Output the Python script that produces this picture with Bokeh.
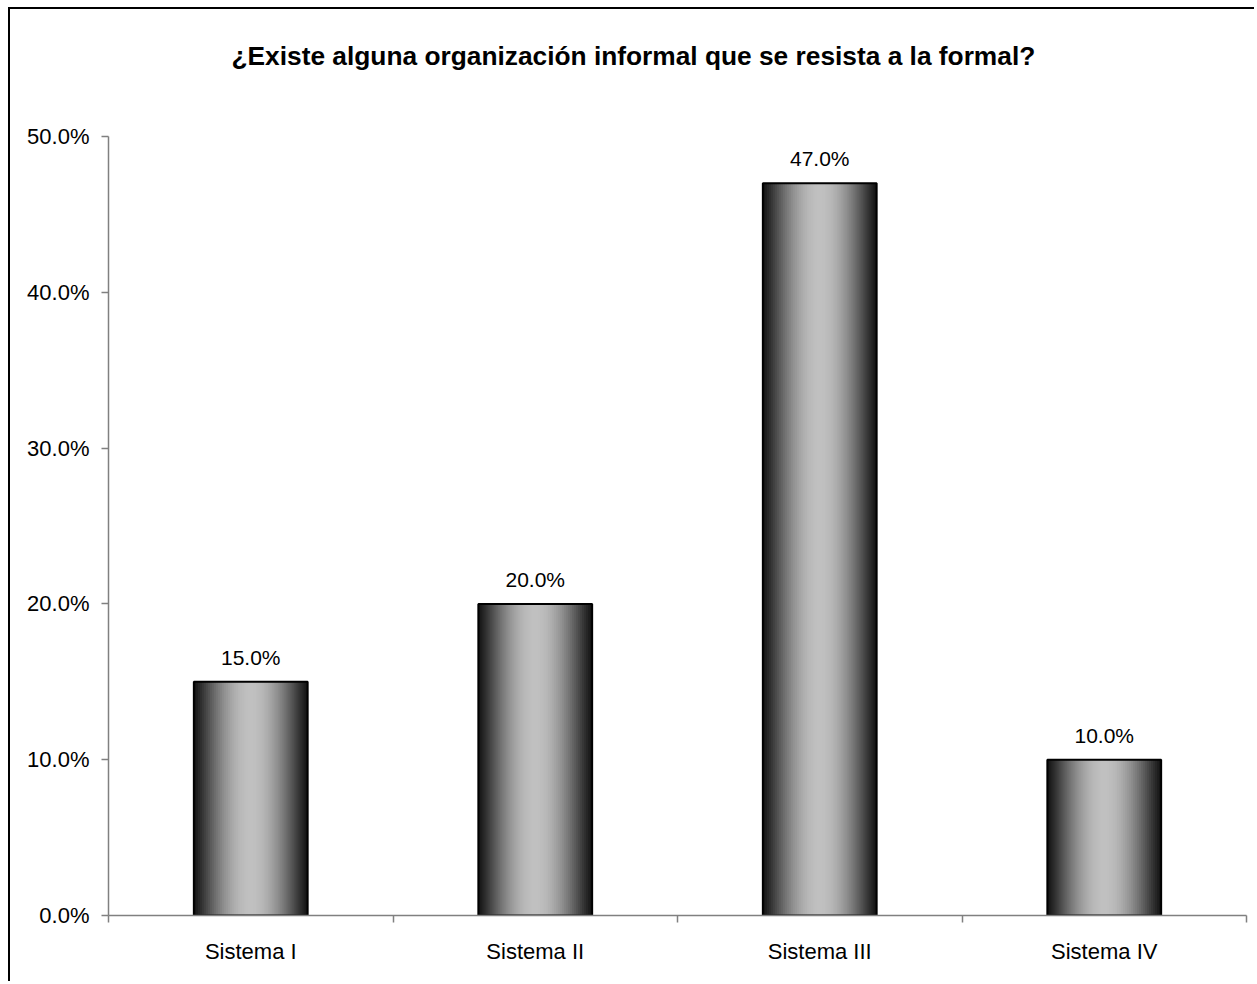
import math
from bokeh.plotting import figure
from bokeh.models import (ColumnDataSource, FixedTicker, NumeralTickFormatter, Range1d, Title)
from bokeh.embed import file_html
from bokeh.resources import INLINE
from bokeh.core.properties import value

# ---- data ----
categories = ["Sistema I", "Sistema II", "Sistema III", "Sistema IV"]
values = [0.15, 0.20, 0.47, 0.10]
y_ticks = [0.0, 0.1, 0.2, 0.3, 0.4, 0.5]
title_text = "¿Existe alguna organización informal que se resista a la formal?"

FONT = "Liberation Sans"
BAR_W = 0.4
N_STRIPS = 57

p = figure(width=1246, height=974, output_backend="svg", toolbar_location=None,
           x_range=Range1d(0, len(categories)), y_range=Range1d(0, 0.5),
           min_border_left=98, min_border_right=10, min_border_top=127, min_border_bottom=68)
p.styles = {"border-left": "2px solid black", "border-top": "2px solid black",
            "margin-left": "8px", "margin-top": "7px"}
p.background_fill_color = "white"
p.border_fill_color = "white"
p.outline_line_color = None
p.xgrid.visible = False
p.ygrid.visible = False

# gradient strips (cylinder shading), overlapping to avoid seams
sl, sr, stop, scol = [], [], [], []
for i, v in enumerate(values):
    c = i + 0.5
    left_edge = c - BAR_W / 2
    right_edge = c + BAR_W / 2
    dw = BAR_W / N_STRIPS
    for k in range(N_STRIPS):
        t = (k + 0.5) / N_STRIPS
        f = math.sin(math.pi * t) ** 1.1
        g = int(round(18 + (192 - 18) * f))
        l = left_edge + k * dw
        sl.append(l)
        sr.append(min(l + 2.2 * dw, right_edge))
        stop.append(v)
        scol.append("#%02x%02x%02x" % (g, g, g))
strips = ColumnDataSource(dict(left=sl, right=sr, top=stop, color=scol))
p.quad(left="left", right="right", top="top", bottom=0, source=strips,
       fill_color="color", line_color=None)

bars = ColumnDataSource(dict(x=[i + 0.5 for i in range(len(values))], top=values,
                             label=["%.1f%%" % (v * 100) for v in values]))
p.vbar(x="x", width=BAR_W, top="top", bottom=0, source=bars,
       fill_color=None, line_color="black", line_width=2)
p.text(x="x", y="top", text="label", source=bars, text_align="center",
       text_baseline="bottom", y_offset=-13, text_font=value(FONT),
       text_font_size="21px", text_color="black")

# x axis
xa = p.xaxis[0]
xa.ticker = FixedTicker(ticks=[i + 0.5 for i in range(len(categories))],
                        minor_ticks=list(range(len(categories) + 1)))
xa.major_label_overrides = {i + 0.5: c for i, c in enumerate(categories)}
xa.major_tick_out = 0
xa.major_tick_in = 0
xa.minor_tick_out = 7
xa.minor_tick_in = 0
xa.minor_tick_line_color = "#808080"
xa.axis_line_color = "#808080"
xa.axis_line_width = 1.5
xa.minor_tick_line_width = 1.5
xa.major_label_standoff = 16
xa.major_label_text_font = FONT
xa.major_label_text_font_size = "22px"
xa.major_label_text_color = "black"

# y axis
ya = p.yaxis[0]
ya.ticker = FixedTicker(ticks=y_ticks, minor_ticks=[])
ya.formatter = NumeralTickFormatter(format="0.0%")
ya.major_tick_out = 7
ya.major_tick_in = 0
ya.major_tick_line_color = "#808080"
ya.major_tick_line_width = 1.5
ya.axis_line_color = "#808080"
ya.axis_line_width = 1.5
ya.major_label_standoff = 12
ya.major_label_text_font = FONT
ya.major_label_text_font_size = "22px"
ya.major_label_text_color = "black"

# title: a blank spacer next to the frame, then the real title above it
p.title = None
spacer = Title(text=" ", text_font_size="20px", standoff=37)
p.add_layout(spacer, "above")
real_title = Title(text=title_text, align="left", offset=123, standoff=10,
                   text_font=FONT, text_font_size="26.3px", text_font_style="bold",
                   text_color="black")
p.add_layout(real_title, "above")

open("out.html", "w").write(file_html(p, INLINE))
